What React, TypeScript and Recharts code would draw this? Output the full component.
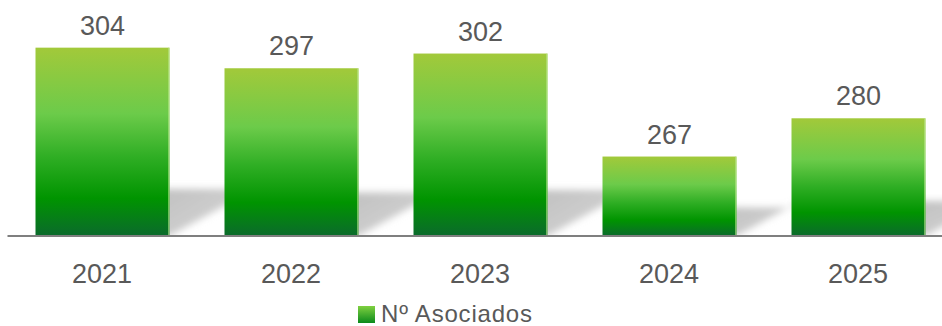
import { BarChart, Bar, XAxis, YAxis, LabelList } from "recharts";

document.body.style.margin = "0";

const years = ["2021", "2022", "2023", "2024", "2025"];
const asociados = [304, 297, 302, 267, 280];
const seriesName = "Nº Asociados";

const data = years.map((y, i) => ({ year: y, value: asociados[i] }));

const FONT = "'Liberation Sans', Arial, sans-serif";
const GREY = "#595959";

// bar with the soft diagonal floor shadow behind it
function ShadowBar(props: any) {
  const { x, y, width, height } = props;
  const bottom = y + height;
  const right = x + width;
  const dx = 62;
  const dy = 34;
  const sh = 15 + height * 0.17;
  const pts = [
    [right - 12, bottom],
    [right - 12, bottom - sh],
    [right + dx, bottom - sh],
    [right + dx, bottom - dy],
    [right, bottom],
  ]
    .map((p) => p.join(","))
    .join(" ");
  return (
    <g>
      <polygon points={pts} fill="url(#shadowGrad)" filter="url(#shadowBlur)" />
      <rect x={x} y={y} width={width} height={height} fill="url(#barGrad)" />
      <rect x={right - 1.5} y={y} width={1.5} height={height} fill="#b8e68a" opacity={0.6} />
    </g>
  );
}

export default function App() {
  return (
    <div style={{ position: "relative", width: 942, height: 326, overflow: "hidden", background: "#fff" }}>
      <BarChart
        width={960}
        height={326}
        data={data}
        margin={{ top: 30, right: 7.5, left: 7.5, bottom: 40 }}
        barSize={134}
      >
        <defs>
          <linearGradient id="barGrad" x1="0" y1="0" x2="0" y2="1">
            <stop offset="0%" stopColor="#a2c93a" />
            <stop offset="35%" stopColor="#6ccb4a" />
            <stop offset="58%" stopColor="#2fae24" />
            <stop offset="80%" stopColor="#009400" />
            <stop offset="100%" stopColor="#0b6a2c" />
          </linearGradient>
          <linearGradient id="shadowGrad" x1="0" y1="0" x2="1" y2="1">
            <stop offset="0%" stopColor="#c0c0c0" />
            <stop offset="60%" stopColor="#cdcdcd" />
            <stop offset="100%" stopColor="#eeeeee" />
          </linearGradient>
          <filter id="shadowBlur" x="-20%" y="-20%" width="140%" height="140%">
            <feGaussianBlur stdDeviation="3.5" />
          </filter>
        </defs>
        <XAxis
          dataKey="year"
          height={50}
          tickLine={false}
          tickSize={0}
          tickMargin={28}
          axisLine={{ stroke: "#7f7f7f", strokeWidth: 2 }}
          tick={{ fill: GREY, fontSize: 27, fontFamily: FONT }}
        />
        <YAxis hide domain={[240, 310]} allowDataOverflow />
        <Bar
          dataKey="value"
          name={seriesName}
          shape={<ShadowBar />}
          isAnimationActive={false}
        >
          <LabelList
            dataKey="value"
            position="top"
            offset={13}
            fill={GREY}
            fontSize={27}
            fontFamily={FONT}
          />
        </Bar>
      </BarChart>
      <div
        style={{
          position: "absolute",
          left: 358,
          top: 302,
          height: 24,
          display: "flex",
          alignItems: "center",
          fontFamily: FONT,
          fontSize: 24,
          lineHeight: "24px",
          color: GREY,
          whiteSpace: "nowrap",
        }}
      >
        <span
          style={{
            display: "inline-block",
            width: 17,
            height: 17,
            marginRight: 6,
            background: "linear-gradient(#7fd040, #0b8a1c)",
          }}
        />
        <span style={{ letterSpacing: 0.8 }}>{seriesName}</span>
      </div>
    </div>
  );
}
